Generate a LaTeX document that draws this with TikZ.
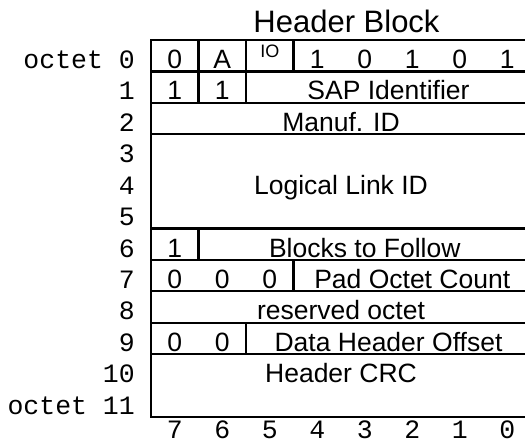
\documentclass[tikz,border=0pt]{standalone}
\usepackage{fontspec}
\setmainfont{Liberation Sans}
\newfontfamily\monof{Liberation Mono}
\begin{document}
\begin{tikzpicture}[x=1pt,y=-1pt,
  gridline/.style={line width=2.2pt,line cap=rect},
  field/.style={anchor=base,inner sep=0pt,font=\fontsize{26.5}{28}\selectfont},
  smallfield/.style={anchor=base,inner sep=0pt,font=\fontsize{18}{20}\selectfont},
  rowlab/.style={anchor=base east,inner sep=0pt,font=\monof\fontsize{26.5}{28}\selectfont},
  bitlab/.style={anchor=base,inner sep=0pt,font=\monof\fontsize{26.5}{28}\selectfont},
  titletext/.style={anchor=base,inner sep=0pt,font=\fontsize{31}{33}\selectfont}]
\useasboundingbox (0,0) rectangle (525,442);
\def\L{151}\def\W{47.5}\def\T{40}\def\H{31.42}
% outer frame
\draw[gridline] (\L,\T) rectangle ({\L+8*\W},{\T+12*\H});
% horizontal rules
\foreach \k in {1,2,3,6,7,8,9,10}
  \draw[gridline] (\L,{\T+\k*\H}) -- ({\L+8*\W},{\T+\k*\H});
% vertical separators
\foreach \c in {1,2,3} \draw[gridline] ({\L+\c*\W},\T) -- ({\L+\c*\W},{\T+\H});
\foreach \c in {1,2} \draw[gridline] ({\L+\c*\W},{\T+\H}) -- ({\L+\c*\W},{\T+2*\H});
\draw[gridline] ({\L+\W},{\T+6*\H}) -- ({\L+\W},{\T+7*\H});
\draw[gridline] ({\L+3*\W},{\T+7*\H}) -- ({\L+3*\W},{\T+8*\H});
\draw[gridline] ({\L+2*\W},{\T+9*\H}) -- ({\L+2*\W},{\T+10*\H});
% title
\node[titletext] (title) at (346.5,32) {Header Block};
% row 0
\node[field] (r0a) at ({\L+0.5*\W},{\T+28.5}) {0};
\node[field] (r0b) at ({\L+1.5*\W},{\T+28.5}) {A};
\node[smallfield] (r0c) at ({\L+2.5*\W},{\T+17.5}) {IO};
\node[field] (r0d) at ({\L+3.5*\W},{\T+28.5}) {1};
\node[field] (r0e) at ({\L+4.5*\W},{\T+28.5}) {0};
\node[field] (r0f) at ({\L+5.5*\W},{\T+28.5}) {1};
\node[field] (r0g) at ({\L+6.5*\W},{\T+28.5}) {0};
\node[field] (r0h) at ({\L+7.5*\W},{\T+28.5}) {1};
% row 1
\node[field] (r1a) at ({\L+0.5*\W},{\T+\H+28.5}) {1};
\node[field] (r1b) at ({\L+1.5*\W},{\T+\H+28.5}) {1};
\node[field] (r1c) at ({\L+5*\W},{\T+\H+28.5}) {SAP Identifier};
% row 2
\node[field] (r2) at ({\L+4*\W},{\T+2*\H+28.5}) {Manuf. ID};
% rows 3-5
\node[field] (r4) at ({\L+4*\W},{\T+4*\H+28.5}) {Logical Link ID};
% row 6
\node[field] (r6a) at ({\L+0.5*\W},{\T+6*\H+28.5}) {1};
\node[field] (r6b) at ({\L+4.5*\W},{\T+6*\H+28.5}) {Blocks to Follow};
% row 7
\node[field] (r7a) at ({\L+0.5*\W},{\T+7*\H+28.5}) {0};
\node[field] (r7b) at ({\L+1.5*\W},{\T+7*\H+28.5}) {0};
\node[field] (r7c) at ({\L+2.5*\W},{\T+7*\H+28.5}) {0};
\node[field] (r7d) at ({\L+5.5*\W},{\T+7*\H+28.5}) {Pad Octet Count};
% row 8
\node[field] (r8) at ({\L+4*\W},{\T+8*\H+28.5}) {reserved octet};
% row 9
\node[field] (r9a) at ({\L+0.5*\W},{\T+9*\H+28.5}) {0};
\node[field] (r9b) at ({\L+1.5*\W},{\T+9*\H+28.5}) {0};
\node[field] (r9c) at ({\L+5*\W},{\T+9*\H+28.5}) {Data Header Offset};
% row 10-11
\node[field] (r10) at ({\L+4*\W},{\T+10*\H+28.5}) {Header CRC};
% octet labels
\node[rowlab] (o0) at (135,{\T+28.5}) {octet 0};
\foreach \r in {1,...,10}
  \node[rowlab] (o\r) at (135,{\T+\r*\H+28.5}) {\r};
\node[rowlab] (o11) at (135,{\T+11*\H+28.5}) {octet 11};
% bit labels
\foreach \b [count=\i from 0] in {7,6,5,4,3,2,1,0}
  \node[bitlab] (b\b) at ({\L+(\i+0.5)*\W},438) {\b};
\end{tikzpicture}
\end{document}
